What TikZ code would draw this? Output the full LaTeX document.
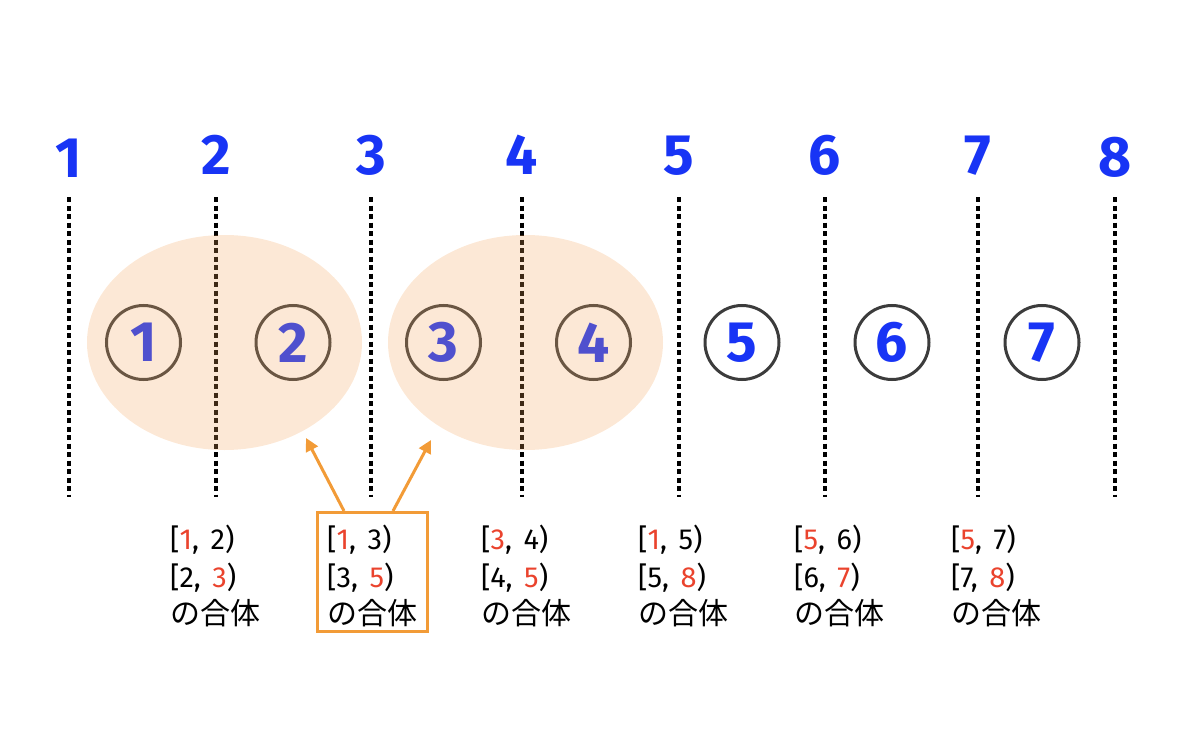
\documentclass[tikz,border=0pt]{standalone}
\usepackage{fontspec}
\setmainfont{Fira Sans}
\newfontfamily\jp{Noto Sans CJK JP}
\usetikzlibrary{arrows.meta,shapes.geometric}
\definecolor{nb}{RGB}{24,52,245}
\definecolor{rd}{RGB}{234,67,45}
\definecolor{og}{RGB}{242,155,55}
\definecolor{gc}{RGB}{245,165,90}
\definecolor{dk}{RGB}{60,60,60}
\tikzset{num/.style={text=nb,font=\fontsize{57}{60}\selectfont\bfseries,inner sep=0pt,anchor=base},
 cell/.style={circle,draw=dk,line width=3pt,minimum size=74pt,inner sep=0pt,text=nb,font=\fontsize{57}{60}\selectfont\bfseries},
 grp/.style={ellipse,fill=gc,fill opacity=.25,minimum width=275pt,minimum height=215pt},
 divline/.style={line width=3.4pt,dash pattern=on 5pt off 3.5pt},
 lab/.style={align=left,anchor=north west,inner sep=0pt,font=\fontsize{29}{37.5}\selectfont},
 hl/.style={draw=og,line width=3pt,minimum width=110pt,minimum height=119pt},
 arr/.style={og,line width=3pt,-{Triangle[length=13pt,width=13pt]}}}
\newcommand\rn[1]{\textcolor{rd}{#1}}
\newcommand\ivl[2]{{[}#1,\hspace{.4em}#2)}
\begin{document}
\begin{tikzpicture}[x=1pt,y=-1pt]
\useasboundingbox (0,0) rectangle (1200,733);
\foreach \x/\y [count=\i] in {69/178,216/175,371/175,522/175,679/175,825/175,978/175,1115/177}{
  \node[num] (n\i) at (\x,\y) {\i};
  \draw[divline] (\x,197) -- (\x,497);}
\foreach \x [count=\i] in {143.5,293,443.5,593.5,742,892,1042}
  \node[cell] (c\i) at (\x,342.5) {\i};
\node[grp] (e1) at (224.5,342.5) {};
\node[grp] (e2) at (525.5,342.5) {};
\foreach \x/\a/\b/\c [count=\i] in {170/1/2/3,327/1/3/5,481/3/4/5,638/1/5/8,794/5/6/7,951/5/7/8}
  \node[lab] (l\i) at (\x,525) {\ivl{\rn{\a}}{\b}\\\ivl{\b}{\rn{\c}}\\{\jp\fontsize{30}{37.5}\selectfont の合体}};
\node[hl] (bx) at (372.5,572) {};
\coordinate (p1) at (306,438);
\coordinate (p2) at (431,440);
\draw[arr] ([xshift=28]bx.north west) -- (p1);
\draw[arr] ([xshift=-36]bx.north east) -- (p2);
\end{tikzpicture}
\end{document}
